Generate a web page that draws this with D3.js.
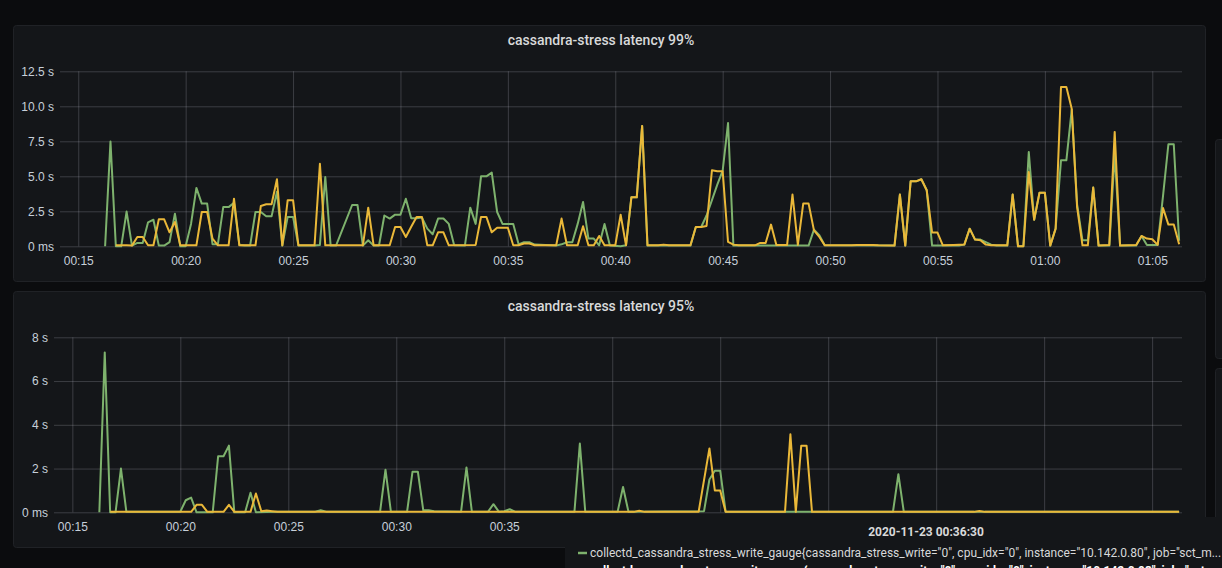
<!DOCTYPE html>
<html>
<head>
<meta charset="utf-8">
<script src="https://cdn.jsdelivr.net/npm/d3@7"></script>
<style>
  html, body { margin: 0; padding: 0; background: #0b0c0e; overflow: hidden; }
  svg { display: block; font-family: Roboto, "Helvetica Neue", Arial, sans-serif; }
  .tick text { fill: #c7d0d9; font-size: 12px; }
  .tick line { stroke: rgba(204, 204, 220, 0.22); }
  .domain { display: none; }
</style>
</head>
<body>
<div id="chart"></div>
<script>
// time window shown by both panels
const day = "2020-11-23";
const timeRange = ["00:14:09", "01:06:23"];

// y tick values of each panel
const p99Ticks = [0, 2.5, 5, 7.5, 10, 12.5];
const p95Ticks = [0, 2, 4, 6, 8];

const panelTitles = ["cassandra-stress latency 99%", "cassandra-stress latency 95%"];

// latency 99%, seconds
const p99Green = [
  ["00:16:15", 0], ["00:16:30", 7.48], ["00:16:45", 0], ["00:17:00", 0], ["00:17:15", 2.48],
  ["00:17:30", 0.05], ["00:17:45", 0.24], ["00:18:00", 0.24], ["00:18:15", 1.71], ["00:18:30", 1.9],
  ["00:18:45", 0.05], ["00:19:00", 0.05], ["00:19:15", 0.3], ["00:19:30", 2.33], ["00:19:45", 0],
  ["00:20:00", 0], ["00:20:15", 1.6], ["00:20:30", 4.17], ["00:20:45", 3.05], ["00:21:00", 3.05],
  ["00:21:15", 0.15], ["00:21:30", 0.15], ["00:21:45", 2.8], ["00:22:00", 2.8], ["00:22:15", 3.1],
  ["00:22:30", 0.1], ["00:22:45", 0.05], ["00:23:00", 0.05], ["00:23:15", 2.45], ["00:23:30", 2.45],
  ["00:23:45", 2.14], ["00:24:00", 2.14], ["00:24:15", 3.9], ["00:24:30", 0.05], ["00:24:45", 2.1],
  ["00:25:00", 2.1], ["00:25:15", 0.05], ["00:26:00", 0.05], ["00:26:15", 0.1], ["00:26:30", 4.95],
  ["00:26:45", 0.05], ["00:27:00", 0.05], ["00:27:45", 2.95], ["00:28:00", 2.95], ["00:28:15", 0.05],
  ["00:28:30", 0.43], ["00:28:45", 0.05], ["00:29:00", 0.05], ["00:29:15", 2.2], ["00:29:30", 1.98],
  ["00:29:45", 2.26], ["00:30:00", 2.26], ["00:30:15", 3.4], ["00:30:30", 2.0], ["00:30:45", 2.0],
  ["00:31:00", 2.05], ["00:31:15", 1.26], ["00:31:30", 0.86], ["00:31:45", 1.98], ["00:32:00", 1.98],
  ["00:32:15", 1.6], ["00:32:30", 0.07], ["00:33:00", 0.05], ["00:33:15", 2.76], ["00:33:30", 1.6],
  ["00:33:45", 5.0], ["00:34:00", 5.0], ["00:34:15", 5.26], ["00:34:30", 2.45], ["00:34:45", 1.6],
  ["00:35:00", 1.6], ["00:35:15", 1.6], ["00:35:30", 0.14], ["00:35:45", 0.29], ["00:36:00", 0.29],
  ["00:36:15", 0.12], ["00:37:15", 0.05], ["00:37:30", 0.14], ["00:37:45", 0.29], ["00:38:00", 0.29],
  ["00:38:15", 1.6], ["00:38:30", 3.17], ["00:38:45", 0.55], ["00:39:00", 0.55], ["00:39:15", 0.07],
  ["00:39:30", 1.6], ["00:39:45", 0.05], ["00:40:15", 0], ["00:40:30", 0.07], ["00:40:45", 3.5],
  ["00:41:00", 3.5], ["00:41:15", 8.6], ["00:41:30", 0.05], ["00:43:30", 0.05], ["00:43:45", 1.38],
  ["00:44:00", 1.38], ["00:44:15", 2.2], ["00:44:30", 3.3], ["00:44:45", 4.4], ["00:45:00", 5.4],
  ["00:45:15", 8.8], ["00:45:30", 0.05], ["00:49:00", 0.05], ["00:49:15", 1.19], ["00:49:30", 0.79],
  ["00:49:45", 0.07], ["00:53:00", 0.05], ["00:53:15", 3.7], ["00:53:30", 0.05], ["00:53:45", 4.64],
  ["00:54:00", 4.64], ["00:54:15", 4.79], ["00:54:30", 4.0], ["00:54:45", 0.05], ["00:56:00", 0.05],
  ["00:56:15", 0.12], ["00:56:30", 1.26], ["00:56:45", 0.48], ["00:57:00", 0.48], ["00:57:15", 0.3],
  ["00:57:30", 0.12], ["00:57:45", 0.05], ["00:58:15", 0.05], ["00:58:30", 3.7], ["00:58:45", 0],
  ["00:59:00", 0], ["00:59:15", 6.74], ["00:59:30", 1.9], ["00:59:45", 3.83], ["01:00:00", 3.83],
  ["01:00:15", 0.05], ["01:00:30", 1.26], ["01:00:45", 6.14], ["01:01:00", 6.14], ["01:01:15", 9.76],
  ["01:01:30", 3.0], ["01:01:45", 0.43], ["01:02:00", 0.43], ["01:02:15", 4.2], ["01:02:30", 0.05],
  ["01:03:00", 0.05], ["01:03:15", 6.6], ["01:03:30", 0.05], ["01:04:15", 0.05], ["01:04:30", 0.74],
  ["01:04:45", 0.1], ["01:05:00", 0.1], ["01:05:15", 0.1], ["01:05:30", 3.6], ["01:05:45", 7.29],
  ["01:06:00", 7.29], ["01:06:15", 0.4]
];

const p99Yellow = [
  ["00:16:45", 0.07], ["00:17:15", 0.07], ["00:17:30", 0.05], ["00:17:45", 0.67], ["00:18:00", 0.67],
  ["00:18:15", 0.07], ["00:18:30", 0.07], ["00:18:45", 1.93], ["00:19:00", 1.93], ["00:19:15", 1.0],
  ["00:19:30", 1.74], ["00:19:45", 0.07], ["00:20:30", 0.07], ["00:20:45", 2.45], ["00:21:00", 2.45],
  ["00:21:15", 0.55], ["00:21:30", 0.07], ["00:22:00", 0.07], ["00:22:15", 3.4], ["00:22:30", 0.07],
  ["00:23:15", 0.07], ["00:23:30", 2.88], ["00:23:45", 3.0], ["00:24:00", 3.0], ["00:24:15", 4.79],
  ["00:24:30", 0.07], ["00:24:45", 3.29], ["00:25:00", 3.29], ["00:25:15", 0.07], ["00:26:00", 0.07],
  ["00:26:15", 5.9], ["00:26:30", 0.07], ["00:28:15", 0.07], ["00:28:30", 2.76], ["00:28:45", 0.07],
  ["00:29:30", 0.07], ["00:29:45", 1.38], ["00:30:00", 1.38], ["00:30:15", 0.67], ["00:30:30", 1.4],
  ["00:30:45", 2.1], ["00:31:00", 2.1], ["00:31:15", 0.07], ["00:31:30", 0.07], ["00:31:45", 1.0],
  ["00:32:00", 1.0], ["00:32:15", 0.07], ["00:33:30", 0.1], ["00:33:45", 2.1], ["00:34:00", 2.1],
  ["00:34:15", 1.0], ["00:34:30", 1.33], ["00:34:45", 1.33], ["00:35:00", 1.33], ["00:35:15", 0.07],
  ["00:35:30", 0.07], ["00:35:45", 0.2], ["00:36:00", 0.2], ["00:36:15", 0.07], ["00:37:15", 0.07],
  ["00:37:30", 1.98], ["00:37:45", 0.07], ["00:38:15", 0.07], ["00:38:30", 1.43], ["00:38:45", 0.07],
  ["00:39:00", 0.07], ["00:39:15", 0.74], ["00:39:30", 0.07], ["00:40:00", 0.07], ["00:40:15", 2.26],
  ["00:40:30", 0.07], ["00:40:45", 3.5], ["00:41:00", 3.5], ["00:41:15", 8.6], ["00:41:30", 0.07],
  ["00:42:00", 0.07], ["00:42:15", 0.12], ["00:42:30", 0.07], ["00:43:30", 0.07], ["00:43:45", 1.38],
  ["00:44:00", 1.38], ["00:44:15", 1.45], ["00:44:30", 5.43], ["00:44:45", 5.36], ["00:45:00", 5.36],
  ["00:45:15", 0.31], ["00:45:30", 0.12], ["00:45:45", 0.07], ["00:46:30", 0.07], ["00:46:45", 0.24],
  ["00:47:00", 0.24], ["00:47:15", 1.55], ["00:47:30", 0.1], ["00:48:00", 0.1], ["00:48:15", 3.7],
  ["00:48:30", 0.1], ["00:48:45", 3.05], ["00:49:00", 3.05], ["00:49:15", 1.14], ["00:49:30", 0.67],
  ["00:49:45", 0.07], ["00:51:00", 0.07], ["00:51:15", 0.1], ["00:52:00", 0.1], ["00:52:15", 0.07],
  ["00:53:00", 0.05], ["00:53:15", 3.7], ["00:53:30", 0.05], ["00:53:45", 4.64], ["00:54:00", 4.64],
  ["00:54:15", 4.79], ["00:54:30", 4.0], ["00:54:45", 0.98], ["00:55:00", 0.98], ["00:55:15", 0.07],
  ["00:55:45", 0.1], ["00:56:15", 0.12], ["00:56:30", 1.26], ["00:56:45", 0.48], ["00:57:00", 0.43],
  ["00:57:15", 0.12], ["00:57:30", 0.07], ["00:58:15", 0.07], ["00:58:30", 3.7], ["00:58:45", 0],
  ["00:59:00", 0], ["00:59:15", 5.3], ["00:59:30", 1.9], ["00:59:45", 3.83], ["01:00:00", 3.83],
  ["01:00:15", 0.05], ["01:00:30", 1.26], ["01:00:45", 11.38], ["01:01:00", 11.38], ["01:01:15", 9.83],
  ["01:01:30", 2.8], ["01:01:45", 0.07], ["01:02:00", 0.07], ["01:02:15", 4.2], ["01:02:30", 0.05],
  ["01:03:00", 0.1], ["01:03:15", 8.17], ["01:03:30", 0.05], ["01:04:15", 0.1], ["01:04:30", 0.74],
  ["01:04:45", 0.55], ["01:05:00", 0.5], ["01:05:15", 0.1], ["01:05:30", 2.74], ["01:05:45", 1.55],
  ["01:06:00", 1.55], ["01:06:15", 0.15]
];

// latency 95%, seconds
const p95Green = [
  ["00:16:15", 0], ["00:16:30", 7.31], ["00:16:45", 0], ["00:17:00", 0], ["00:17:15", 2.0],
  ["00:17:30", 0.03], ["00:20:00", 0.03], ["00:20:15", 0.55], ["00:20:30", 0.67], ["00:20:45", 0],
  ["00:21:30", 0], ["00:21:45", 2.56], ["00:22:00", 2.56], ["00:22:15", 3.05], ["00:22:30", 0],
  ["00:23:00", 0], ["00:23:15", 0.89], ["00:23:30", 0], ["00:24:30", 0.03], ["00:26:15", 0.03],
  ["00:26:30", 0.09], ["00:26:45", 0.03], ["00:29:15", 0.03], ["00:29:30", 1.95], ["00:29:45", 0.03],
  ["00:30:30", 0.03], ["00:30:45", 1.85], ["00:31:00", 1.85], ["00:31:15", 0.09], ["00:31:30", 0.09],
  ["00:31:45", 0.05], ["00:33:00", 0.03], ["00:33:15", 2.05], ["00:33:30", 0.03], ["00:34:15", 0.03],
  ["00:34:30", 0.37], ["00:34:45", 0.03], ["00:35:00", 0.05], ["00:35:15", 0.14], ["00:35:30", 0.03],
  ["00:38:15", 0.03], ["00:38:30", 3.14], ["00:38:45", 0.03], ["00:40:15", 0.03], ["00:40:30", 1.16],
  ["00:40:45", 0.03], ["00:44:15", 0.05], ["00:44:30", 1.5], ["00:44:45", 1.9], ["00:45:00", 1.9],
  ["00:45:15", 0.03], ["00:53:00", 0.03], ["00:53:15", 1.74], ["00:53:30", 0.03], ["01:06:15", 0.03]
];

const p95Yellow = [
  ["00:16:45", 0.02], ["00:20:30", 0.02], ["00:20:45", 0.34], ["00:21:00", 0.34], ["00:21:15", 0.02],
  ["00:22:00", 0.02], ["00:22:15", 0.34], ["00:22:30", 0.02], ["00:23:15", 0.02], ["00:23:30", 0.86],
  ["00:23:45", 0.05], ["00:24:00", 0.08], ["00:24:15", 0.05], ["00:24:30", 0.02], ["00:41:00", 0.02],
  ["00:41:15", 0.07], ["00:41:30", 0.02], ["00:44:00", 0.02], ["00:44:30", 2.92], ["00:44:45", 1.0],
  ["00:45:00", 1.0], ["00:45:15", 0.02], ["00:48:00", 0.02], ["00:48:15", 3.57], ["00:48:30", 0.02],
  ["00:48:45", 3.04], ["00:49:00", 3.04], ["00:49:15", 0.02], ["00:56:45", 0.02], ["00:57:00", 0.06],
  ["00:57:15", 0.02], ["01:06:15", 0.02]
];

const tooltipTime = "2020-11-23 00:36:30";
const tooltipRows = [
  'collectd_cassandra_stress_write_gauge{cassandra_stress_write="0", cpu_idx="0", instance="10.142.0.80", job="sct_m...',
  'collectd_cassandra_stress_write_gauge{cassandra_stress_write="0", cpu_idx="0", instance="10.142.0.93", job="sct_m...'
];

const green = "#7eb26d";
const yellow = "#eab839";

const svgWidth = 1222;
const svgHeight = 568;

// left edge of the hover tooltip, it hides what lies under it
const tipLeft = 565;

const svg = d3.select("#chart")
  .append("svg")
  .attr("width", svgWidth)
  .attr("height", svgHeight);

svg.append("rect")
  .attr("width", svgWidth)
  .attr("height", svgHeight)
  .attr("fill", "#0b0c0e");

// stubs of the neighbouring panels on the right edge
[[139, 219], [368, 260]].forEach(function (p) {
  svg.append("rect")
    .attr("x", 1215.5).attr("y", p[0] + 0.5)
    .attr("width", 40).attr("height", p[1])
    .attr("rx", 3)
    .attr("fill", "#141619")
    .attr("stroke", "#202226");
});

const parseTime = d3.timeParse("%Y-%m-%d %H:%M:%S");
const toDate = t => parseTime(day + " " + t);

function drawPanel(opt) {
  const g = svg.append("g");

  g.append("rect")
    .attr("x", 13.5).attr("y", opt.top + 0.5)
    .attr("width", 1192).attr("height", 256)
    .attr("rx", 3)
    .attr("fill", "#141619")
    .attr("stroke", "#202226");

  g.append("text")
    .attr("x", 601)
    .attr("y", opt.top + 20)
    .attr("text-anchor", "middle")
    .attr("fill", "#d8d9da")
    .attr("font-size", "14px")
    .attr("font-weight", 500)
    .text(opt.title);

  const x = d3.scaleTime()
    .domain(timeRange.map(toDate))
    .range([opt.left, 1182]);

  const y = d3.scaleLinear()
    .domain([0, opt.max])
    .range([opt.bottom, opt.plotTop]);

  // horizontal grid + y labels
  g.append("g")
    .attr("transform", `translate(${opt.left}, 0)`)
    .call(d3.axisLeft(y)
      .tickValues(opt.ticks)
      .tickSize(-(1182 - opt.left))
      .tickPadding(6)
      .tickFormat(opt.fmt));

  // vertical grid + time labels
  const xAxis = g.append("g")
    .attr("transform", `translate(0, ${opt.bottom})`)
    .call(d3.axisBottom(x)
      .ticks(d3.timeMinute.every(5))
      .tickSize(-(opt.bottom - opt.plotTop))
      .tickPadding(8)
      .tickFormat(d3.timeFormat("%H:%M")));
  xAxis.selectAll(".tick text").attr("dy", "0.9em");

  // labels that sit under the tooltip are not visible
  if (opt.hideUnderTip) {
    xAxis.selectAll(".tick text")
      .filter(d => x(d) + 16 > tipLeft)
      .remove();
  }

  const line = d3.line()
    .x(d => x(toDate(d[0])))
    .y(d => y(d[1]));

  g.append("path")
    .datum(opt.green)
    .attr("fill", "none")
    .attr("stroke", green)
    .attr("stroke-width", 2)
    .attr("stroke-linejoin", "round")
    .attr("d", line);

  g.append("path")
    .datum(opt.yellow)
    .attr("fill", "none")
    .attr("stroke", yellow)
    .attr("stroke-width", 2)
    .attr("stroke-linejoin", "round")
    .attr("d", line);
}

drawPanel({
  top: 25, plotTop: 71.3, bottom: 246.3, left: 60, max: 12.5,
  ticks: p99Ticks, title: panelTitles[0],
  fmt: v => v === 0 ? "0 ms" : v.toFixed(1) + " s",
  green: p99Green, yellow: p99Yellow
});

drawPanel({
  top: 291, plotTop: 337.3, bottom: 512.3, left: 54, max: 8,
  ticks: p95Ticks, title: panelTitles[1],
  fmt: v => v === 0 ? "0 ms" : v + " s",
  green: p95Green, yellow: p95Yellow,
  hideUnderTip: true
});

// hover tooltip
const tip = svg.append("g");
tip.append("rect")
  .attr("x", tipLeft).attr("y", 517)
  .attr("width", 720).attr("height", 70)
  .attr("fill", "#141619");

tip.append("text")
  .attr("x", 926).attr("y", 536)
  .attr("text-anchor", "middle")
  .attr("fill", "#d8d9da")
  .attr("font-size", "12px")
  .attr("font-weight", 700)
  .text(tooltipTime);

[green, yellow].forEach(function (c, i) {
  tip.append("line")
    .attr("x1", 578).attr("x2", 587)
    .attr("y1", 553 + i * 18).attr("y2", 553 + i * 18)
    .attr("stroke", c)
    .attr("stroke-width", 2.5);
  tip.append("text")
    .attr("x", 590).attr("y", 557 + i * 18)
    .attr("fill", i === 0 ? "#d8d9da" : "#ffffff")
    .attr("font-size", "12px")
    .attr("font-weight", i === 0 ? 400 : 700)
    .text(tooltipRows[i]);
});
</script>
</body>
</html>
